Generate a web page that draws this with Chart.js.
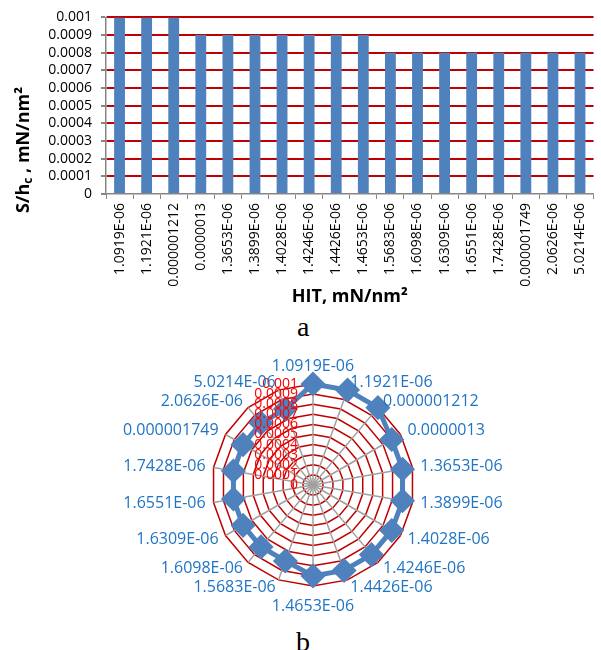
<!DOCTYPE html>
<html>
<head>
<meta charset="utf-8">
<script src="https://cdn.jsdelivr.net/npm/chart.js@4.4.0/dist/chart.umd.min.js"></script>
<style>
  body { margin: 0; background: #fff; width: 601px; height: 650px; position: relative; overflow: hidden; }
  #graficoBarras { position: absolute; left: 0; top: 0; }
  #graficoRadar { position: absolute; left: 0; top: 356px; }
  .legenda { position: absolute; font-family: "Liberation Serif", serif; font-size: 28px; line-height: 28px; color: #000; }
</style>
</head>
<body>
<canvas id="graficoBarras" width="601" height="310"></canvas>
<div class="legenda" style="left:297px; top:313px;">a</div>
<canvas id="graficoRadar" width="601" height="258"></canvas>
<div class="legenda" style="left:296px; top:628px;">b</div>
<script>
const categorias = ["1.0919E-06", "1.1921E-06", "0.000001212", "0.0000013", "1.3653E-06", "1.3899E-06",
    "1.4028E-06", "1.4246E-06", "1.4426E-06", "1.4653E-06", "1.5683E-06", "1.6098E-06",
    "1.6309E-06", "1.6551E-06", "1.7428E-06", "0.000001749", "2.0626E-06", "5.0214E-06"];
const valores = [0.001, 0.001, 0.001, 0.0009, 0.0009, 0.0009, 0.0009, 0.0009, 0.0009, 0.0009,
    0.0008, 0.0008, 0.0008, 0.0008, 0.0008, 0.0008, 0.0008, 0.0008];
const rotulosY = ["0", "0.0001", "0.0002", "0.0003", "0.0004", "0.0005", "0.0006", "0.0007", "0.0008", "0.0009", "0.001"];

const fonte = "'Open Sans', 'Liberation Sans', sans-serif";
const azul = "#4f81bd";
const vermelho = "#c00000";

// titulo do eixo Y com subscrito (S/h_c)
const tituloY = {
    id: "tituloY",
    afterDraw(chart) {
        const ctx = chart.ctx;
        const partes = [
            { t: "S/h", f: "bold 18px " + fonte, dy: 0 },
            { t: "c", f: "bold 12px " + fonte, dy: 5 },
            { t: " , mN/nm²", f: "bold 18px " + fonte, dy: 0 }
        ];
        let total = 0;
        partes.forEach(p => { ctx.font = p.f; p.w = ctx.measureText(p.t).width; total += p.w; });
        ctx.save();
        ctx.translate(24, 150);
        ctx.rotate(-Math.PI / 2);
        ctx.fillStyle = "#000";
        ctx.textBaseline = "middle";
        let x = -total / 2;
        partes.forEach(p => { ctx.font = p.f; ctx.fillText(p.t, x, p.dy); x += p.w; });
        ctx.restore();
    }
};

// Gráfico de Barras
new Chart(document.getElementById("graficoBarras"), {
    type: "bar",
    data: {
        labels: categorias,
        datasets: [{
            data: valores,
            backgroundColor: azul,
            barPercentage: 0.4,
            categoryPercentage: 1
        }]
    },
    options: {
        responsive: false,
        animation: false,
        layout: { padding: { top: 16, right: 7, left: 0, bottom: 0 } },
        plugins: { legend: { display: false }, tooltip: { enabled: false } },
        scales: {
            y: {
                min: 0,
                max: 0.001,
                afterFit: s => { s.width = 106; },
                ticks: {
                    stepSize: 0.0001,
                    autoSkip: false,
                    color: "#000",
                    padding: 9,
                    font: { family: fonte, size: 14 },
                    callback: (v, i) => rotulosY[i]
                },
                grid: {
                    color: c => c.tick && c.tick.value === 0 ? "rgba(0,0,0,0)" : vermelho,
                    lineWidth: 2,
                    tickColor: "#868686",
                    tickLength: 5
                },
                border: { color: "#868686", width: 1.5 }
            },
            x: {
                afterFit: s => { s.height = 116; },
                ticks: {
                    color: "#000",
                    minRotation: 90,
                    maxRotation: 90,
                    autoSkip: false,
                    padding: 4,
                    font: { family: fonte, size: 14 }
                },
                grid: {
                    offset: true,
                    drawOnChartArea: false,
                    color: "#868686",
                    tickLength: 5
                },
                border: { color: "#868686", width: 1.5 },
                title: {
                    display: true,
                    text: "HIT, mN/nm²",
                    color: "#000",
                    font: { family: fonte, size: 18, weight: "bold" },
                    padding: { top: 0, bottom: 2 }
                }
            }
        }
    },
    plugins: [tituloY]
});

// rotulos do radar: escala vermelha à esquerda do eixo vertical e categorias em azul (estilo Excel)
const rotulosRadar = {
    id: "rotulosRadar",
    afterDatasetsDraw(chart) {
        const r = chart.scales.r;
        const ctx = chart.ctx;
        ctx.save();
        ctx.font = "14px " + fonte;
        ctx.fillStyle = "#ff0000";
        ctx.textAlign = "right";
        ctx.textBaseline = "middle";
        r.ticks.forEach((t, i) => {
            const d = r.getDistanceFromCenterForValue(t.value);
            ctx.fillText(rotulosY[i], r.xCenter - 15, r.yCenter - d);
        });

        ctx.font = "16px " + fonte;
        ctx.fillStyle = "#1f74c4";
        categorias.forEach((lab, i) => {
            const p = r.getPointPosition(i, r.drawingArea + 8);
            const dx = p.x - r.xCenter;
            let y = p.y;
            if (Math.abs(dx) < 1) {
                ctx.textAlign = "center";
                y += p.y < r.yCenter ? -10 : 12;
            } else {
                ctx.textAlign = dx > 0 ? "left" : "right";
            }
            ctx.fillText(lab, p.x, y);
        });
        ctx.restore();
    }
};

// Gráfico Radar
new Chart(document.getElementById("graficoRadar"), {
    type: "radar",
    data: {
        labels: categorias,
        datasets: [{
            data: valores,
            borderColor: azul,
            borderWidth: 5,
            backgroundColor: azul,
            fill: false,
            pointStyle: "rectRot",
            pointRadius: 9,
            pointBackgroundColor: azul,
            pointBorderColor: azul
        }]
    },
    options: {
        responsive: false,
        animation: false,
        layout: { padding: { left: 212, right: 186, top: 28, bottom: 28 } },
        plugins: { legend: { display: false }, tooltip: { enabled: false } },
        scales: {
            r: {
                min: 0,
                max: 0.001,
                ticks: { stepSize: 0.0001, display: false },
                grid: { color: vermelho, lineWidth: 1.5 },
                angleLines: { color: "#a0a0a0", lineWidth: 1.5 },
                pointLabels: { display: false }
            }
        }
    },
    plugins: [rotulosRadar]
});
</script>
</body>
</html>
